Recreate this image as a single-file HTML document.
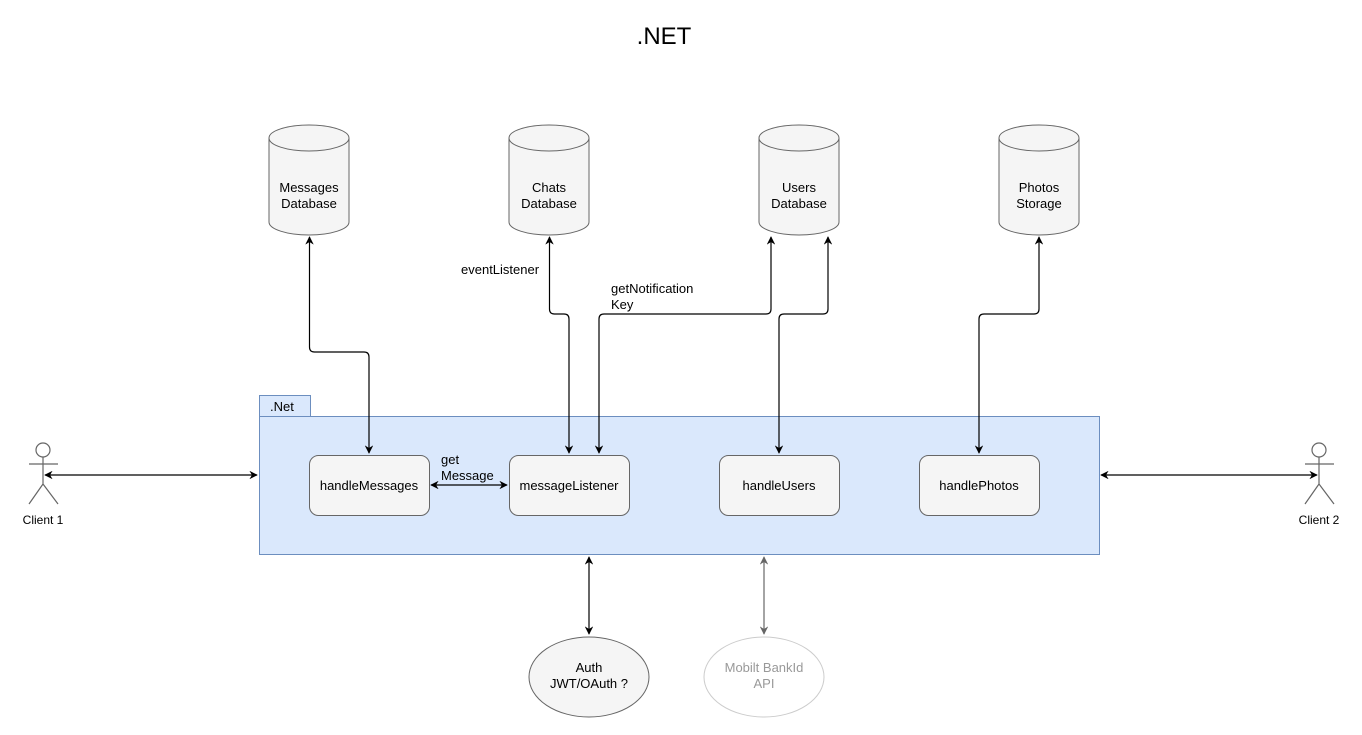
<!DOCTYPE html>
<html><head><meta charset="utf-8"><style>
html,body{margin:0;padding:0;background:#fff;}
svg{display:block;font-family:"Liberation Sans",Arial,sans-serif;}
</style></head><body>
<svg width="1362" height="735" viewBox="0 0 1362 735" xmlns="http://www.w3.org/2000/svg">
<defs>
<marker id="a" viewBox="0 0 10 10" refX="9" refY="5" markerWidth="7" markerHeight="7" orient="auto-start-reverse"><path d="M0,0 L10,5 L0,10 L3,5 z" fill="#000"/></marker>
<marker id="g" viewBox="0 0 10 10" refX="9" refY="5" markerWidth="7" markerHeight="7" orient="auto-start-reverse"><path d="M0,0 L10,5 L0,10 L3,5 z" fill="#666"/></marker>
</defs>
<text x="664" y="44" font-size="24" text-anchor="middle">.NET</text>

<g fill="#f5f5f5" stroke="#666" stroke-width="1">
<path d="M269,138 a40,13 0 0 1 80,0 v84 a40,13 0 0 1 -80,0 z"/><path d="M269,138 a40,13 0 0 0 80,0" fill="none"/>
<path d="M509,138 a40,13 0 0 1 80,0 v84 a40,13 0 0 1 -80,0 z"/><path d="M509,138 a40,13 0 0 0 80,0" fill="none"/>
<path d="M759,138 a40,13 0 0 1 80,0 v84 a40,13 0 0 1 -80,0 z"/><path d="M759,138 a40,13 0 0 0 80,0" fill="none"/>
<path d="M999,138 a40,13 0 0 1 80,0 v84 a40,13 0 0 1 -80,0 z"/><path d="M999,138 a40,13 0 0 0 80,0" fill="none"/>
</g>
<g font-size="13" text-anchor="middle" fill="#000">
<text x="309" y="192">Messages</text><text x="309" y="208">Database</text>
<text x="549" y="192">Chats</text><text x="549" y="208">Database</text>
<text x="799" y="192">Users</text><text x="799" y="208">Database</text>
<text x="1039" y="192">Photos</text><text x="1039" y="208">Storage</text>
</g>

<rect x="259.5" y="395.5" width="51" height="21" fill="#dae8fc" stroke="#6c8ebf"/>
<text x="270" y="411" font-size="13">.Net</text>
<rect x="259.5" y="416.5" width="840" height="138" fill="#dae8fc" stroke="#6c8ebf"/>

<g fill="#f5f5f5" stroke="#666">
<rect x="309.5" y="455.5" width="120" height="60" rx="9"/>
<rect x="509.5" y="455.5" width="120" height="60" rx="9"/>
<rect x="719.5" y="455.5" width="120" height="60" rx="9"/>
<rect x="919.5" y="455.5" width="120" height="60" rx="9"/>
</g>
<g font-size="13" text-anchor="middle">
<text x="369" y="490">handleMessages</text>
<text x="569" y="490">messageListener</text>
<text x="779" y="490">handleUsers</text>
<text x="979" y="490">handlePhotos</text>
</g>

<g fill="none" stroke="#000" stroke-width="1.2">
<path d="M309.5,237 V347 q0,5 5,5 H364 q5,0 5,5 V453" marker-start="url(#a)" marker-end="url(#a)"/>
<path d="M549.5,237 V309 q0,5 5,5 H564 q5,0 5,5 V453" marker-start="url(#a)" marker-end="url(#a)"/>
<path d="M771,237 V309 q0,5 -5,5 H604 q-5,0 -5,5 V453" marker-start="url(#a)" marker-end="url(#a)"/>
<path d="M828,237 V309 q0,5 -5,5 H784 q-5,0 -5,5 V453" marker-start="url(#a)" marker-end="url(#a)"/>
<path d="M1039,237 V309 q0,5 -5,5 H984 q-5,0 -5,5 V453" marker-start="url(#a)" marker-end="url(#a)"/>
<path d="M431,485 H507" marker-start="url(#a)" marker-end="url(#a)"/>
<path d="M45,475 H257" marker-start="url(#a)" marker-end="url(#a)"/>
<path d="M1101,475 H1317" marker-start="url(#a)" marker-end="url(#a)"/>
<path d="M589,557 V634" marker-start="url(#a)" marker-end="url(#a)"/>
</g>
<path d="M764,557 V634" fill="none" stroke="#666" stroke-width="1.2" marker-start="url(#g)" marker-end="url(#g)"/>

<g font-size="13">
<text x="461" y="274">eventListener</text>
<text x="611" y="293">getNotification</text><text x="611" y="309">Key</text>
<text x="441" y="464">get</text><text x="441" y="480">Message</text>
</g>

<ellipse cx="589" cy="677" rx="60" ry="40" fill="#f5f5f5" stroke="#666"/>
<text x="589" y="672" font-size="13" text-anchor="middle">Auth</text>
<text x="589" y="688" font-size="13" text-anchor="middle">JWT/OAuth ?</text>
<ellipse cx="764" cy="677" rx="60" ry="40" fill="#fff" stroke="#ccc"/>
<text x="764" y="672" font-size="13" text-anchor="middle" fill="#999">Mobilt BankId</text>
<text x="764" y="688" font-size="13" text-anchor="middle" fill="#999">API</text>

<g fill="#fff" stroke="#666" stroke-width="1.2">
<circle cx="43" cy="450" r="7"/>
<path d="M43,457 V484 M29,464 H58 M43,484 L29,504 M43,484 L58,504" fill="none"/>
<circle cx="1319" cy="450" r="7"/>
<path d="M1319,457 V484 M1305,464 H1334 M1319,484 L1305,504 M1319,484 L1334,504" fill="none"/>
</g>
<text x="43" y="524" font-size="12" text-anchor="middle">Client 1</text>
<text x="1319" y="524" font-size="12" text-anchor="middle">Client 2</text>
</svg>
</body></html>
